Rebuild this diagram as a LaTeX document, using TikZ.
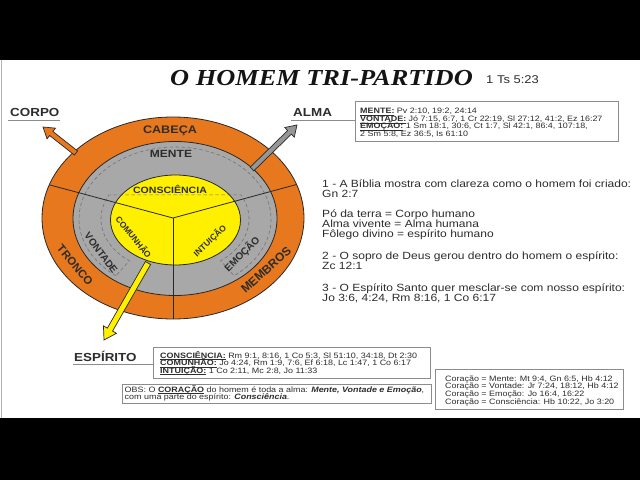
\documentclass[tikz,border=0pt]{standalone}
\usepackage{fontspec}
\setmainfont{Liberation Sans}
\newfontfamily\serifbi{Liberation Serif}
\usetikzlibrary{calc}
\definecolor{ringorange}{RGB}{232,120,30}
\definecolor{ringgray}{RGB}{168,168,168}
\definecolor{ringyellow}{RGB}{255,240,0}
\definecolor{inkdark}{RGB}{40,40,40}
\definecolor{txt}{RGB}{45,45,45}
\definecolor{boxline}{RGB}{140,140,140}
\definecolor{arrowgray}{RGB}{150,150,150}
\definecolor{dashcol}{RGB}{115,115,115}
\newcommand\ulb[1]{\underline{\smash{\textbf{#1}}}}
\newcommand\fatarrow[6]{%
  \coordinate (hb#1) at ($(#2)!#6!(#1)$);
  \filldraw[fill=#3, draw=inkdark, line width=0.7bp, line join=miter]
    ($(#1)!#4!90:(#2)$) -- ($(hb#1)!#4!90:(#2)$) -- ($(hb#1)!#5!90:(#2)$) -- (#2)
    -- ($(hb#1)!#5!-90:(#2)$) -- ($(hb#1)!#4!-90:(#2)$) -- ($(#1)!#4!-90:(#2)$) -- cycle;}
\tikzset{
  outl/.style={draw=inkdark, line width=0.8bp},
  lbl/.style={font=\bfseries\fontsize{11.7}{12}\selectfont, text=txt, inner sep=0, anchor=base west, xscale=1.15},
  ringlbl/.style={font=\bfseries\fontsize{#1}{#1}\selectfont, text=txt, inner sep=0},
  boxtxt/.style={font=\fontsize{7.8}{8}\selectfont, text=txt, inner sep=0, anchor=base west, xscale=1.15, text height=5.4bp, text depth=1.2bp},
  rtxt/.style={font=\fontsize{10.5}{11}\selectfont, text=txt, inner sep=0, anchor=base west, xscale=1.15, text height=7.6bp, text depth=1.8bp},
  refbox/.style={draw=boxline, line width=0.7bp, inner sep=0, anchor=north west},
  uline/.style={draw=boxline, line width=0.7bp},
}
\begin{document}
\begin{tikzpicture}[x=1bp,y=-1bp]
\fill[black] (0,0) rectangle (640,480);
\fill[white] (0,60) rectangle (640,418);
\draw[gray!60, line width=0.6bp] (1,60) -- (1,418);

% title
\node[font=\serifbi\bfseries\itshape\fontsize{23}{24}\selectfont, anchor=base west, xscale=1.15, inner sep=0, text=black!92] (title) at (170,86) {O HOMEM TRI-PARTIDO};
\node[font=\fontsize{11.3}{12}\selectfont, anchor=base west, xscale=1.15, inner sep=0, text=txt] (ts) at (486,83.5) {1 Ts 5:23};

% rings
\filldraw[fill=ringorange, outl] (173,218) ellipse [x radius=131, y radius=101];
\filldraw[fill=ringgray, outl] (175,218.5) ellipse [x radius=102, y radius=77];
\filldraw[fill=ringyellow, outl] (175.5,220) ellipse [x radius=65, y radius=45];

% dashed heart outline
\draw[dashcol, line width=0.6bp, dash pattern=on 3.5bp off 2.5bp]
  plot[domain=128:412, samples=90] ({175+96*cos(\x)}, {219+72*sin(\x)})
  -- plot[domain=52:-27, samples=40] ({175+74*cos(\x)}, {219+53*sin(\x)})
  -- plot[domain=207:128, samples=40] ({175+74*cos(\x)}, {219+53*sin(\x)})
  -- cycle;

% dividers
\coordinate (ctr) at (173,218);
\coordinate (divL) at (50,185);
\coordinate (divR) at (302,183);
\coordinate (divB) at (173,330);
\begin{scope}
  \clip (173,218) ellipse [x radius=131, y radius=101];
  \draw[inkdark, line width=0.8bp] ($(ctr)!1.3!(divL)$) -- (ctr) -- ($(ctr)!1.3!(divR)$);
  \draw[inkdark, line width=0.8bp] (ctr) -- (divB);
\end{scope}

% ring labels
\node[ringlbl=11, xscale=1.15] (cabeca) at (170,131) {CABEÇA};
\node[ringlbl=10.5, xscale=1.15] (mente) at (171,154) {MENTE};
\node[ringlbl=9.2, xscale=1.15] (consc) at (170,189) {CONSCIÊNCIA};
\node[ringlbl=8.5, rotate=-51] (comun) at (134,237) {COMUNHÃO};
\node[ringlbl=8.5, rotate=43] (intui) at (210,241) {INTUIÇÃO};
\node[ringlbl=10, rotate=-53] (vont) at (101,253) {VONTADE};
\node[ringlbl=10, rotate=45] (emoc) at (242,254) {EMOÇÃO};
\node[ringlbl=11.3, rotate=-50] (tronco) at (75,265) {TRONCO};
\node[ringlbl=12, rotate=42] (membros) at (266,270) {MEMBROS};

% arrows
\coordinate (corpoS) at (76,153);
\coordinate (corpoT) at (43,127);
\coordinate (almaS) at (252,169);
\coordinate (almaT) at (297,125);
\coordinate (espS) at (148,263);
\coordinate (espT) at (104,340);
\fatarrow{corpoS}{corpoT}{ringorange}{2.6bp}{6.8bp}{10.5bp}
\fatarrow{almaS}{almaT}{arrowgray}{2.6bp}{6.8bp}{10.5bp}
\fatarrow{espS}{espT}{ringyellow}{3bp}{7.5bp}{12bp}

% labels
\node[lbl] (corpo) at (10,117) {CORPO};
\node[lbl] (alma) at (293,117) {ALMA};
\node[lbl] (esp) at (74,361) {ESPÍRITO};

% alma box
\node[refbox, minimum width=263bp, minimum height=40bp] (almabox) at (355,101) {};
\coordinate (corpoU) at (8,120);
\coordinate (corpoUe) at (60,120);
\draw[uline] (corpoU) -- (corpoUe);
\coordinate (almaU) at (291,120);
\draw[uline] (almaU) -- (almaU -| almabox.west);
\node[boxtxt] (am1) at (360,114) {\ulb{MENTE:} Pv 2:10, 19:2, 24:14};
\node[boxtxt] (am2) at (360,121.5) {\ulb{VONTADE:} Jó 7:15, 6:7, 1 Cr 22:19, Sl 27:12, 41:2, Ez 16:27};
\node[boxtxt] (am3) at (360,129) {\ulb{EMOÇÃO:} 1 Sm 18:1, 30:6, Ct 1:7, Sl 42:1, 86:4, 107:18,};
\node[boxtxt] (am4) at (360,136.5) {2 Sm 5:8, Ez 36:5, Is 61:10};

% right text block
\node[rtxt] (r1) at (322,187.5) {1 - A Bíblia mostra com clareza como o homem foi criado:};
\node[rtxt] (r2) at (322,197.5) {Gn 2:7};
\node[rtxt] (r3) at (322,217.5) {Pó da terra = Corpo humano};
\node[rtxt] (r4) at (322,227.5) {Alma vivente = Alma humana};
\node[rtxt] (r5) at (322,237.5) {Fôlego divino = espírito humano};
\node[rtxt] (r6) at (322,259.5) {2 - O sopro de Deus gerou dentro do homem o espírito:};
\node[rtxt] (r7) at (322,269.5) {Zc 12:1};
\node[rtxt] (r8) at (322,291) {3 - O Espírito Santo quer mesclar-se com nosso espírito:};
\node[rtxt] (r9) at (322,301) {Jo 3:6, 4:24, Rm 8:16, 1 Co 6:17};

% espirito box
\node[refbox, minimum width=277bp, minimum height=31bp] (espbox) at (153,347) {};
\coordinate (espU) at (73,364);
\draw[uline] (espU) -- (espU -| espbox.west);
\node[boxtxt] (e1) at (160,358) {\ulb{CONSCIÊNCIA:} Rm 9:1, 8:16, 1 Co 5:3, Sl 51:10, 34:18, Dt 2:30};
\node[boxtxt] (e2) at (160,365.5) {\ulb{COMUNHÃO:} Jo 4:24, Rm 1:9, 7:6, Ef 6:18, Lc 1:47, 1 Co 6:17};
\node[boxtxt] (e3) at (160,373) {\ulb{INTUIÇÃO:} 1 Co 2:11, Mc 2:8, Jo 11:33};

% obs box
\node[refbox, minimum width=309bp, minimum height=19bp] (obsbox) at (122,384) {};
\node[boxtxt] (o1) at (124.5,392) {OBS: O \ulb{CORAÇÃO} do homem é toda a alma: \textbf{\textit{Mente, Vontade e Emoção}},};
\node[boxtxt] (o2) at (124.5,399.5) {com uma parte do espírito: \textbf{\textit{Consciência}}.};

% coracao box
\node[refbox, minimum width=188bp, minimum height=40bp] (corbox) at (435,369) {};
\node[boxtxt] (c1) at (445,381) {Coração = Mente: Mt 9:4, Gn 6:5, Hb 4:12};
\node[boxtxt] (c2) at (445,388.7) {Coração = Vontade: Jr 7:24, 18:12, Hb 4:12};
\node[boxtxt] (c3) at (445,396.3) {Coração = Emoção: Jo 16:4, 16:22};
\node[boxtxt] (c4) at (445,404) {Coração = Consciência: Hb 10:22, Jo 3:20};
\end{tikzpicture}
\end{document}
